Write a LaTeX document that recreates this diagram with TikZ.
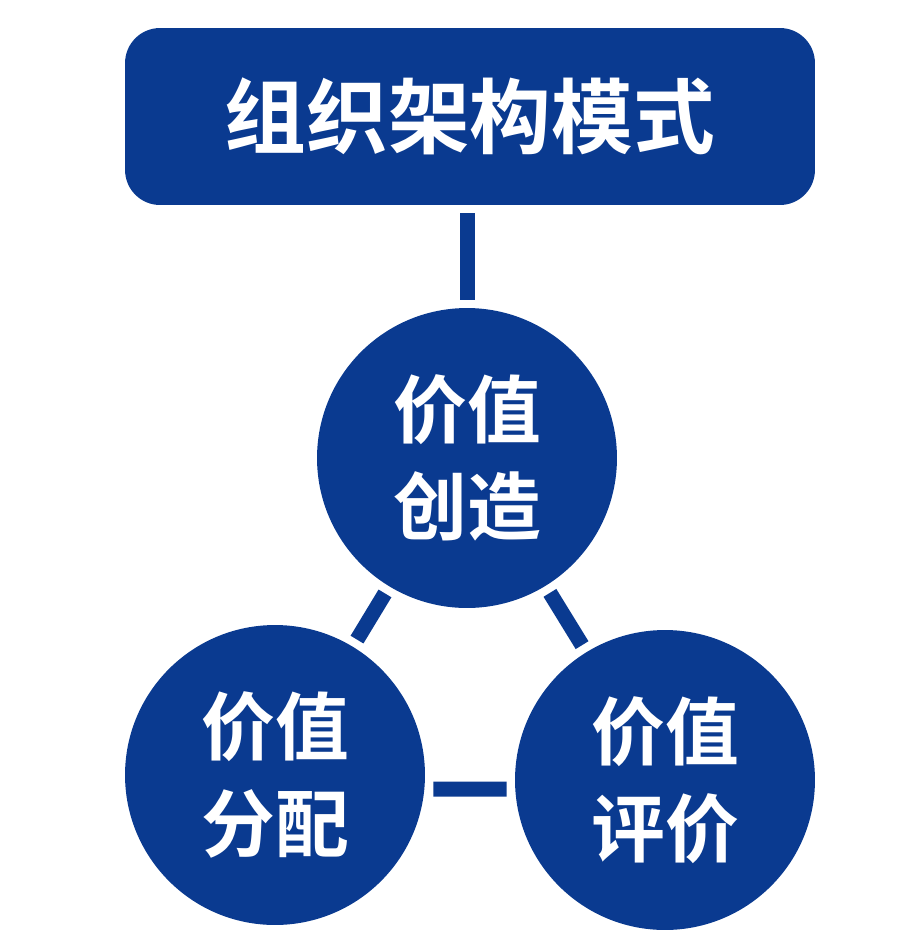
\documentclass[tikz,border=0pt]{standalone}
\usepackage{fontspec}
\usepackage{xcolor}
\usepackage{tikz}
\newfontfamily\cjk[BoldFont={Noto Sans CJK SC Bold}]{Noto Sans CJK SC}
\definecolor{deepblue}{RGB}{10,58,144}

\begin{document}
\begin{tikzpicture}[x=0.02cm, y=-0.02cm,
  titlebox/.style={fill=deepblue, rounded corners=0.7cm, minimum width=13.8cm, minimum height=3.54cm,
    text=white, font=\cjk\bfseries\fontsize{46.5}{50}\selectfont},
  valuecircle/.style={circle, fill=deepblue, minimum size=6cm, inner sep=0pt, align=center,
    text=white, font=\cjk\bfseries\fontsize{42}{55}\selectfont},
  link/.style={deepblue, line width=0.3cm, shorten >=0.16cm, shorten <=0.16cm}]
\useasboundingbox (0,0) rectangle (919,951);
% top box
\node[titlebox] (mode) at (470,116.5) {组织架构模式};
% the three circles
\node[valuecircle] (create) at (467,458) {价值\\创造};
\node[valuecircle] (share) at (275,775) {价值\\分配};
\node[valuecircle] (judge) at (665,780) {价值\\评价};
% connectors
\draw[link] (create |- mode.south) -- (create);
\draw[link] (create) -- (share);
\draw[link] (create) -- (judge);
\draw[link] ([yshift=-0.28cm]share.east) -- ([yshift=-0.18cm]judge.west);
\end{tikzpicture}
\end{document}
